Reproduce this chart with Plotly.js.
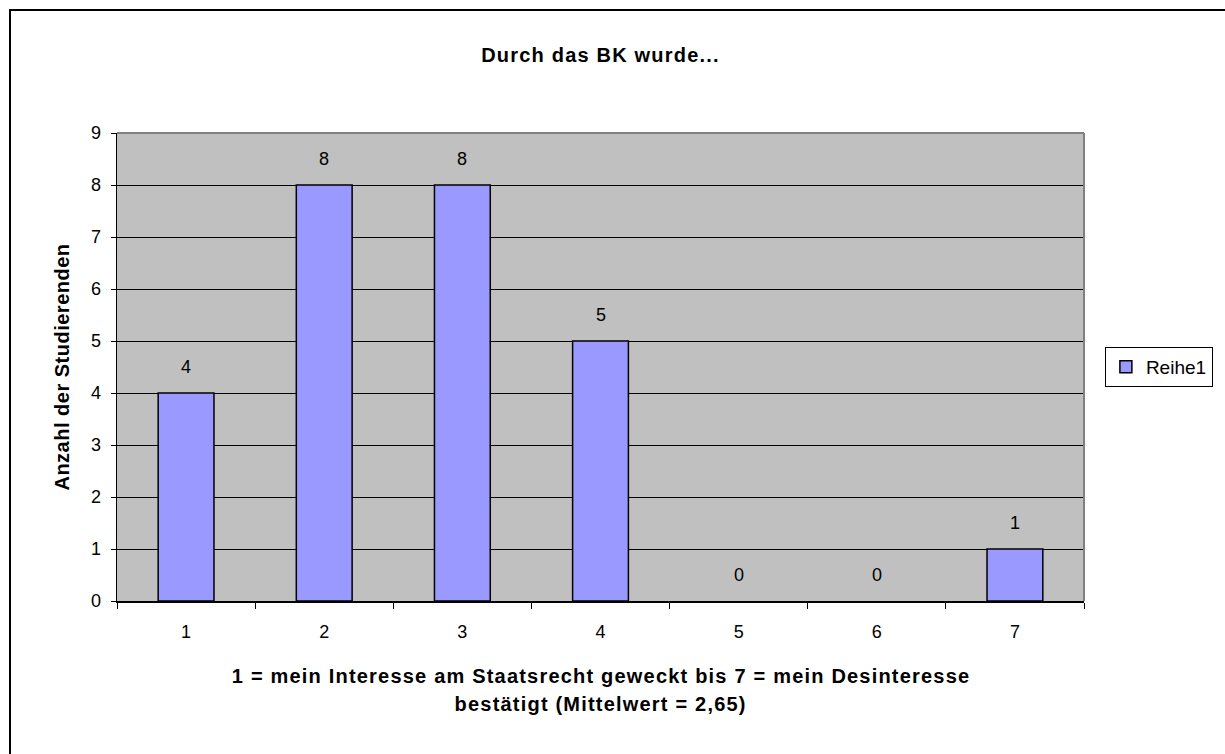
<!DOCTYPE html>
<html>
<head>
<meta charset="utf-8">
<script src="https://cdn.plot.ly/plotly-3.0.1.min.js"></script>
<style>
html,body{margin:0;padding:0;background:#fff;overflow:hidden;}
#chart{width:1225px;height:754px;position:absolute;left:0;top:0;}
#frame{position:absolute;left:9px;top:9px;width:3000px;height:3000px;border-left:2px solid #000;border-top:2px solid #000;pointer-events:none;}
#chart .gtitle{letter-spacing:1.2px;}
#chart .annotation.xt text{letter-spacing:1.2px;}
#chart .ytitle{letter-spacing:0.5px;}
</style>
</head>
<body>
<div id="chart"></div>
<div id="frame"></div>
<script>
const categories = ['1','2','3','4','5','6','7'];
const values = [4, 8, 8, 5, 0, 0, 1];
const yTicks = [0,1,2,3,4,5,6,7,8,9];
const seriesName = 'Reihe1';
const chartTitle = 'Durch das BK wurde...';
const yTitle = 'Anzahl der Studierenden';
const xTitleLines = ['1 = mein Interesse am Staatsrecht geweckt bis 7 = mein Desinteresse', 'bestätigt (Mittelwert = 2,65)'];

const FONT = 'Liberation Sans, Arial, sans-serif';

const trace = {
  type: 'bar',
  x: categories,
  y: values,
  name: seriesName,
  showlegend: true,
  marker: {color: '#9999FF', line: {color: '#000000', width: values.map(v => v === 0 ? 0 : 1.5)}},
  hoverinfo: 'x+y'
};

const annotations = categories.map((c, i) => ({
  x: i, y: values[i], xref: 'x', yref: 'y',
  text: String(values[i]), showarrow: false,
  yanchor: 'middle', yshift: 26,
  font: {family: FONT, size: 18, color: '#000'}
}));
xTitleLines.forEach((line, k) => {
  annotations.push({
    xref: 'paper', yref: 'paper', x: 0.5, y: 0, yanchor: 'middle', yshift: -75 - 28 * k,
    text: '<b>' + line + '</b>', showarrow: false, captureevents: false,
    font: {family: FONT, size: 20, color: '#000'}
  });
});

const layout = {
  width: 1225, height: 754,
  margin: {l: 117, r: 138, t: 133, b: 153, pad: 0},
  paper_bgcolor: '#ffffff',
  plot_bgcolor: '#C0C0C0',
  font: {family: FONT, size: 18, color: '#000'},
  title: {text: '<b>' + chartTitle + '</b>', x: 0.5, xref: 'paper', y: 1 - 55/754, yanchor: 'middle',
          font: {family: FONT, size: 20, color: '#000'}},
  bargap: 0.596,
  xaxis: {
    type: 'category', range: [-0.5, categories.length - 0.5], showgrid: false, zeroline: false,
    showline: true, linecolor: '#000', linewidth: 1.5,
    ticks: 'outside', tickson: 'boundaries', ticklen: 6, tickcolor: '#000', tickwidth: 1,
    ticklabelstandoff: 14,
    tickfont: {family: FONT, size: 18, color: '#000'}
  },
  yaxis: {
    range: [0, 9], tickvals: yTicks, ticktext: yTicks.map(String),
    showgrid: true, gridcolor: '#000', gridwidth: 1, zeroline: false,
    showline: true, linecolor: '#000', linewidth: 1.5,
    ticks: 'outside', ticklen: 5, tickcolor: '#000', tickwidth: 1,
    ticklabelstandoff: 6,
    tickfont: {family: FONT, size: 18, color: '#000'},
    title: {text: '<b>' + yTitle + '</b>', standoff: 16, font: {family: FONT, size: 20, color: '#000'}}
  },
  legend: {
    x: 1.0216, xanchor: 'left', y: 0.5, yanchor: 'middle',
    bgcolor: '#fff', bordercolor: '#000', borderwidth: 1,
    font: {family: FONT, size: 19, color: '#000'}
  },
  shapes: [
    {type: 'line', xref: 'paper', yref: 'paper', x0: 0, x1: 1, y0: 1, y1: 1, line: {color: '#808080', width: 2}},
    {type: 'line', xref: 'paper', yref: 'paper', x0: 1, x1: 1, y0: 0, y1: 1, line: {color: '#808080', width: 2}}
  ],
  annotations: annotations
};

Plotly.newPlot('chart', [trace], layout, {displayModeBar: false, staticPlot: true}).then(gd => {
  const anns = gd.querySelectorAll('.annotation');
  anns.forEach((a, idx) => { if (idx >= categories.length) a.classList.add('xt'); });
});
</script>
</body>
</html>
